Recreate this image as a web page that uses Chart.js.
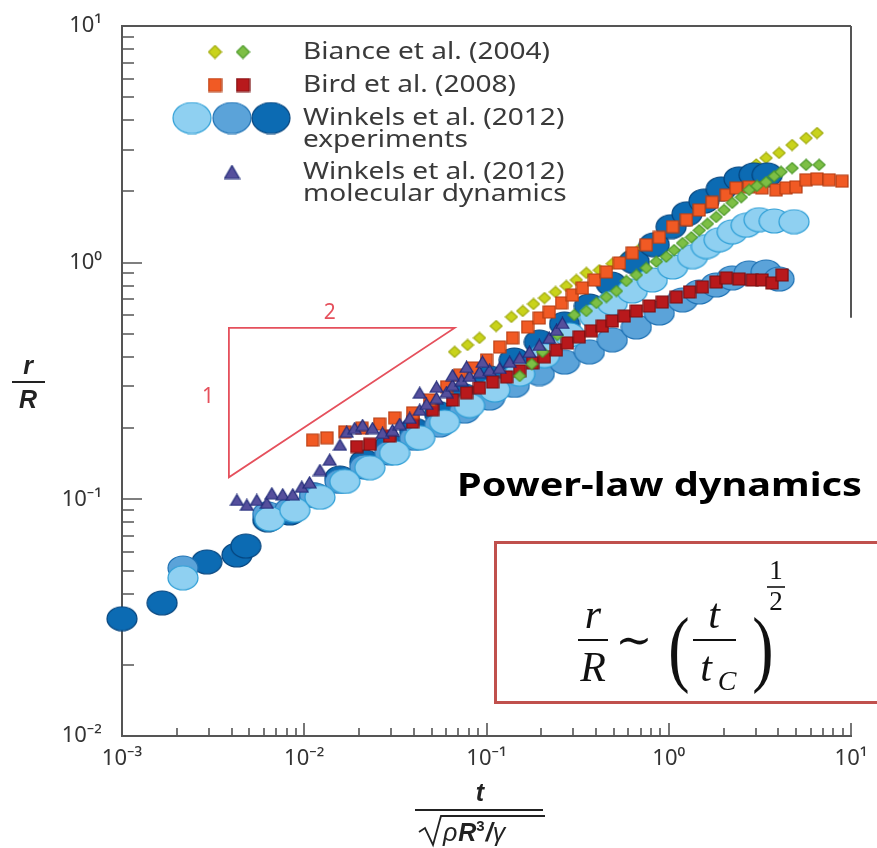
<!DOCTYPE html>
<html>
<head>
<meta charset="utf-8">
<script src="https://cdn.jsdelivr.net/npm/chart.js@4.4.1/dist/chart.umd.min.js"></script>
<style>
html, body { margin: 0; padding: 0; background: #fff; }
canvas { display: block; }
</style>
</head>
<body>
<canvas id="myChart" width="877" height="848"></canvas>
<script>
// values: t/sqrt(rho R^3/gamma) (x) and r/R (y)
var bianceLightT = [0.0668,0.0787,0.0915,0.113,0.137,0.158,0.181,0.208,0.239,0.274,0.311,0.353,0.416,0.490,0.578,0.690,0.812,0.957,1.14,1.36,1.63,1.94,2.29,2.63,3.02,3.42,4.03,4.75,5.67,6.51];
var bianceLightR = [0.420,0.449,0.481,0.540,0.590,0.625,0.669,0.709,0.752,0.797,0.845,0.905,0.930,0.990,1.05,1.14,1.25,1.36,1.49,1.64,1.80,1.98,2.16,2.37,2.60,2.77,2.91,3.14,3.36,3.53];

var bianceDarkT = [0.152,0.177,0.203,0.245,0.303,0.353,0.401,0.455,0.516,0.585,0.664,0.753,0.854,0.969,1.07,1.19,1.33,1.47,1.63,1.82,2.01,2.23,2.50,2.76,3.05,3.42,3.79,4.13,4.75,5.67,6.68];
var bianceDarkR = [0.332,0.373,0.420,0.495,0.601,0.625,0.676,0.716,0.759,0.837,0.887,0.950,1.01,1.06,1.13,1.21,1.28,1.37,1.46,1.56,1.67,1.79,1.89,2.03,2.11,2.19,2.32,2.42,2.51,2.59,2.59];

var birdLightT = [0.0111,0.0133,0.0167,0.0207,0.0259,0.0313,0.0393,0.0487,0.0604,0.0712,0.0838,0.100,0.118,0.139,0.168,0.195,0.221,0.258,0.296,0.336,0.391,0.455,0.536,0.631,0.753,0.887,1.05,1.25,1.47,1.73,2.07,2.34,2.76,3.25,3.88,4.40,4.99,5.67,6.51,7.58,8.92];
var birdLightR = [0.178,0.182,0.193,0.200,0.208,0.221,0.232,0.263,0.299,0.335,0.359,0.388,0.440,0.481,0.535,0.584,0.619,0.676,0.730,0.782,0.845,0.914,0.997,1.10,1.19,1.28,1.42,1.52,1.67,1.80,1.93,2.07,2.09,2.07,2.03,2.07,2.09,2.24,2.26,2.24,2.21];

var birdDarkT = [0.0194,0.0229,0.0294,0.0393,0.0506,0.0651,0.0777,0.0915,0.108,0.129,0.152,0.179,0.208,0.242,0.278,0.323,0.376,0.432,0.490,0.570,0.664,0.782,0.921,1.10,1.30,1.53,1.82,2.07,2.43,2.87,3.25,3.69,4.19];
var birdDarkR = [0.167,0.171,0.185,0.212,0.239,0.263,0.282,0.296,0.313,0.329,0.349,0.377,0.400,0.428,0.458,0.486,0.515,0.540,0.567,0.595,0.625,0.656,0.682,0.716,0.752,0.790,0.829,0.862,0.853,0.845,0.845,0.821,0.887];

var winkelsLightT = [0.00216,0.00647,0.00887,0.0122,0.0167,0.0229,0.0313,0.0430,0.0589,0.0807,0.111,0.152,0.208,0.285,0.391,0.490,0.631,0.812,1.05,1.35,1.61,1.89,2.23,2.66,3.13,3.79,4.87];
var winkelsLightR = [0.0466,0.0826,0.090,0.102,0.119,0.136,0.157,0.182,0.212,0.249,0.290,0.338,0.405,0.495,0.595,0.676,0.759,0.845,0.959,1.06,1.17,1.25,1.35,1.44,1.52,1.50,1.49];

var winkelsMidT = [0.00216,0.00631,0.00833,0.0114,0.0157,0.0215,0.0294,0.0403,0.0553,0.0758,0.104,0.142,0.195,0.268,0.367,0.490,0.664,0.887,1.19,1.47,1.82,2.23,2.76,3.42,4.03];
var winkelsMidR = [0.0513,0.0868,0.0902,0.104,0.119,0.137,0.157,0.181,0.206,0.236,0.268,0.303,0.340,0.380,0.420,0.472,0.535,0.613,0.696,0.752,0.805,0.862,0.905,0.914,0.853];

var winkelsDarkT = [0.00100,0.00166,0.00292,0.00427,0.00478,0.00631,0.00833,0.0114,0.0157,0.0215,0.0294,0.0403,0.0553,0.0758,0.104,0.142,0.195,0.268,0.367,0.484,0.647,0.833,1.03,1.26,1.56,1.94,2.43,2.94,3.47];
var winkelsDarkR = [0.0313,0.0365,0.0544,0.0582,0.0635,0.0819,0.0876,0.104,0.123,0.144,0.168,0.196,0.230,0.273,0.326,0.388,0.462,0.551,0.656,0.813,1.01,1.19,1.42,1.61,1.82,2.05,2.26,2.35,2.35];

var mdT = [0.00427,0.00484,0.00549,0.00623,0.00664,0.00762,0.00865,0.00969,0.0107,0.0122,0.0138,0.0157,0.0171,0.0189,0.0209,0.0237,0.0269,0.0305,0.0334,0.0379,0.0430,0.0469,0.0532,0.0604,0.0651,0.0730,0.0807,0.0915,0.104,0.118,0.134,0.152,0.172,0.195,0.221,0.242,0.261,0.0430,0.0532,0.0651,0.0777,0.0951];
var mdR = [0.0994,0.0947,0.0994,0.0966,0.106,0.105,0.105,0.113,0.118,0.133,0.147,0.170,0.193,0.200,0.206,0.200,0.191,0.196,0.208,0.221,0.239,0.253,0.268,0.284,0.304,0.319,0.332,0.345,0.352,0.359,0.381,0.396,0.420,0.449,0.481,0.520,0.556,0.282,0.299,0.335,0.363,0.381];

var xTickValues = [0.001, 0.01, 0.1, 1, 10];
var xTickLabels = ['10\u207B\u00B3', '10\u207B\u00B2', '10\u207B\u00B9', '10\u2070', '10\u00B9'];
var yTickValues = [0.01, 0.1, 1, 10];
var yTickLabels = ['10\u207B\u00B2', '10\u207B\u00B9', '10\u2070', '10\u00B9'];

var legendLabels = [
  ['Biance et al. (2004)'],
  ['Bird et al. (2008)'],
  ['Winkels et al. (2012)', 'experiments'],
  ['Winkels et al. (2012)', 'molecular dynamics']
];

var colors = {
  yellow: ['#c9d31b', '#a2ac10'],
  green: ['#7dbf45', '#4d9a2b'],
  orange: ['#f15a24', '#b43c12'],
  darkred: ['#b8191c', '#7b0e10'],
  light: ['#8fd0f1', '#2f9fd6'],
  mid: ['#5ba3d9', '#1f72b4'],
  dark: ['#0c6bb3', '#06457e'],
  tri: ['#554f9c', '#1f2a78']
};

function makeMarker(shape, w, h, c) {
  var cv = document.createElement('canvas');
  cv.width = w + 2; cv.height = h + 2;
  var g = cv.getContext('2d');
  var cx = (w + 2) / 2, cy = (h + 2) / 2;
  g.fillStyle = c[0]; g.strokeStyle = c[1]; g.lineWidth = 1.2;
  g.beginPath();
  if (shape === 'ellipse') {
    g.ellipse(cx, cy, w / 2, h / 2, 0, 0, Math.PI * 2);
  } else if (shape === 'square') {
    g.rect(1, 1, w, h);
  } else if (shape === 'diamond') {
    g.moveTo(cx, 1); g.lineTo(w + 1, cy); g.lineTo(cx, h + 1); g.lineTo(1, cy); g.closePath();
  } else {
    g.moveTo(cx, 1); g.lineTo(w + 1, h + 1); g.lineTo(1, h + 1); g.closePath();
  }
  g.fill(); g.stroke();
  return cv;
}

function pairs(ts, rs) {
  return ts.map(function (t, i) { return { x: t, y: rs[i] }; });
}

function series(label, ts, rs, marker) {
  return { label: label, data: pairs(ts, rs), pointStyle: marker, pointRadius: 6, clip: false, showLine: false };
}

var mk = {
  yellow: makeMarker('diamond', 12, 11, colors.yellow),
  green: makeMarker('diamond', 12, 11, colors.green),
  orange: makeMarker('square', 12, 12, colors.orange),
  darkred: makeMarker('square', 12, 12, colors.darkred),
  light: makeMarker('ellipse', 30, 24, colors.light),
  mid: makeMarker('ellipse', 30, 24, colors.mid),
  dark: makeMarker('ellipse', 30, 24, colors.dark),
  tri: makeMarker('triangle', 13, 11, colors.tri)
};

var legMk = {
  yellow: makeMarker('diamond', 13, 13, colors.yellow),
  green: makeMarker('diamond', 13, 13, colors.green),
  orange: makeMarker('square', 13, 13, colors.orange),
  darkred: makeMarker('square', 13, 13, colors.darkred),
  light: makeMarker('ellipse', 38, 31, colors.light),
  mid: makeMarker('ellipse', 38, 31, colors.mid),
  dark: makeMarker('ellipse', 38, 31, colors.dark),
  tri: makeMarker('triangle', 15, 13, colors.tri)
};

var axisColor = '#555555';
var noteRed = '#e5505c';

function put(ctx, img, x, y) {
  ctx.drawImage(img, x - img.width / 2, y - img.height / 2);
}

// text squeezed or stretched horizontally to a given width
function fitText(ctx, text, x, y, width) {
  var w = ctx.measureText(text).width;
  ctx.save();
  ctx.translate(x, y);
  ctx.scale(width / w, 1);
  ctx.fillText(text, 0, 0);
  ctx.restore();
}

var figurePlugin = {
  id: 'figure',
  beforeDatasetsDraw: function (chart) {
    var ctx = chart.ctx, xs = chart.scales.x, ys = chart.scales.y, a = chart.chartArea;
    ctx.save();
    ctx.strokeStyle = axisColor;
    ctx.lineWidth = 1.6;
    ctx.beginPath();
    for (var e = -3; e <= 1; e++) {
      for (var k = 1; k <= 9; k++) {
        if (e === 1 && k > 1) break;
        var v = k * Math.pow(10, e);
        var px = Math.round(xs.getPixelForValue(v));
        var len = k === 1 ? 13 : 8;
        ctx.moveTo(px, a.bottom); ctx.lineTo(px, a.bottom - len);
        if (e >= -2) {
          var py = Math.round(ys.getPixelForValue(v));
          var ylen = k === 1 ? 20 : 12;
          ctx.moveTo(a.left, py); ctx.lineTo(a.left + ylen, py);
        }
      }
    }
    ctx.stroke();
    // top frame and the visible part of the right frame
    ctx.lineWidth = 2;
    ctx.beginPath();
    ctx.moveTo(a.left, a.top); ctx.lineTo(a.right, a.top);
    ctx.moveTo(a.right, a.top); ctx.lineTo(a.right, ys.getPixelForValue(0.585));
    ctx.stroke();

    // slope triangle 1 : 2
    var p1 = [xs.getPixelForValue(0.00386), ys.getPixelForValue(0.53)];
    var p2 = [xs.getPixelForValue(0.0668), ys.getPixelForValue(0.53)];
    var p3 = [xs.getPixelForValue(0.00386), ys.getPixelForValue(0.124)];
    ctx.strokeStyle = noteRed;
    ctx.lineWidth = 1.8;
    ctx.beginPath();
    ctx.moveTo(p1[0], p1[1]); ctx.lineTo(p2[0], p2[1]); ctx.lineTo(p3[0], p3[1]); ctx.closePath();
    ctx.stroke();
    ctx.fillStyle = noteRed;
    ctx.font = '21px "Noto Sans"';
    ctx.textAlign = 'center';
    ctx.textBaseline = 'middle';
    ctx.fillText('2', xs.getPixelForValue(0.0138), ys.getPixelForValue(0.61));
    ctx.fillText('1', xs.getPixelForValue(0.00296), ys.getPixelForValue(0.27));
    ctx.restore();
  },
  afterDraw: function (chart) {
    var ctx = chart.ctx;
    ctx.save();

    // legend
    var rows = [
      { m: [legMk.yellow, legMk.green], x: [215, 243], y: 52 },
      { m: [legMk.orange, legMk.darkred], x: [215, 243], y: 85 },
      { m: [legMk.light, legMk.mid, legMk.dark], x: [192, 232, 271], y: 118 },
      { m: [legMk.tri], x: [232], y: 172 }
    ];
    ctx.fillStyle = '#3a3a3a';
    ctx.font = '23px "Noto Sans"';
    ctx.textAlign = 'left';
    ctx.textBaseline = 'middle';
    var stretch = 247 / ctx.measureText(legendLabels[0][0]).width;
    rows.forEach(function (row, i) {
      row.m.forEach(function (img, j) { put(ctx, img, row.x[j], row.y); });
      legendLabels[i].forEach(function (line, j) {
        fitText(ctx, line, 303, row.y + j * 22, ctx.measureText(line).width * stretch);
      });
    });

    // y axis title r / R
    ctx.fillStyle = '#222';
    ctx.strokeStyle = '#222';
    ctx.textAlign = 'center';
    ctx.textBaseline = 'alphabetic';
    ctx.font = 'italic bold 25px "Liberation Sans"';
    ctx.fillText('r', 28, 374);
    ctx.fillText('R', 28, 408);
    ctx.lineWidth = 2;
    ctx.beginPath(); ctx.moveTo(12, 382); ctx.lineTo(45, 382); ctx.stroke();

    // x axis title t / sqrt(rho R^3 / gamma)
    ctx.fillText('t', 480, 801);
    ctx.beginPath(); ctx.moveTo(415, 810); ctx.lineTo(543, 810); ctx.stroke();
    ctx.lineWidth = 1.8;
    ctx.beginPath();
    ctx.moveTo(419, 832); ctx.lineTo(425, 828); ctx.lineTo(433, 845); ctx.lineTo(441, 816); ctx.lineTo(545, 816);
    ctx.stroke();
    ctx.textAlign = 'left';
    var cx = 443;
    ctx.font = 'italic 25px "Liberation Sans"';
    ctx.fillText('\u03C1', cx, 841); cx += ctx.measureText('\u03C1').width + 1;
    ctx.font = 'italic bold 25px "Liberation Sans"';
    ctx.fillText('R', cx, 841); cx += ctx.measureText('R').width;
    ctx.font = 'bold 15px "Liberation Sans"';
    ctx.fillText('3', cx, 831); cx += ctx.measureText('3').width + 1;
    ctx.font = 'italic bold 25px "Liberation Sans"';
    ctx.fillText('/', cx, 841); cx += ctx.measureText('/').width;
    ctx.font = 'italic 25px "Liberation Sans"';
    ctx.fillText('\u03B3', cx, 841);

    // Power-law dynamics heading
    ctx.fillStyle = '#000';
    ctx.font = 'bold 32px "Noto Sans"';
    fitText(ctx, 'Power-law dynamics', 457, 496, 405);

    // formula box
    ctx.strokeStyle = '#c0504d';
    ctx.lineWidth = 3;
    ctx.strokeRect(495.5, 542.5, 420, 160);

    ctx.fillStyle = '#111';
    ctx.strokeStyle = '#111';
    ctx.textAlign = 'center';
    ctx.font = 'italic 42px "Liberation Serif"';
    ctx.fillText('r', 593, 628);
    ctx.fillText('R', 593, 681);
    ctx.lineWidth = 2;
    ctx.beginPath(); ctx.moveTo(578, 640); ctx.lineTo(608, 640); ctx.stroke();
    ctx.textBaseline = 'middle';
    ctx.font = '44px "DejaVu Serif"';
    ctx.fillText('\u223C', 634, 644);
    ctx.font = '80px "Liberation Serif"';
    ctx.save();
    ctx.translate(0, 654);
    ctx.scale(0.8, 1.05);
    ctx.fillText('(', 679 / 0.8, 0);
    ctx.fillText(')', 763 / 0.8, 0);
    ctx.restore();
    ctx.textBaseline = 'alphabetic';
    ctx.font = 'italic 42px "Liberation Serif"';
    ctx.fillText('t', 714, 628);
    ctx.fillText('t', 706, 681);
    ctx.font = 'italic 28px "Liberation Serif"';
    ctx.fillText('C', 727, 690);
    ctx.beginPath(); ctx.moveTo(693, 640); ctx.lineTo(736, 640); ctx.stroke();
    ctx.font = '27px "Liberation Serif"';
    ctx.fillText('1', 776, 579);
    ctx.fillText('2', 776, 610);
    ctx.lineWidth = 1.6;
    ctx.beginPath(); ctx.moveTo(767, 587); ctx.lineTo(785, 587); ctx.stroke();

    ctx.restore();
  }
};

var ctx = document.getElementById('myChart');

var myChart = new Chart(ctx, {
  type: 'scatter',
  data: {
    datasets: [
      series('Winkels et al. (2012) molecular dynamics', mdT, mdR, mk.tri),
      series('Biance et al. (2004) dark', bianceDarkT, bianceDarkR, mk.green),
      series('Bird et al. (2008) light', birdLightT, birdLightR, mk.orange),
      series('Bird et al. (2008) dark', birdDarkT, birdDarkR, mk.darkred),
      series('Winkels et al. (2012) light', winkelsLightT, winkelsLightR, mk.light),
      series('Winkels et al. (2012) mid', winkelsMidT, winkelsMidR, mk.mid),
      series('Winkels et al. (2012) dark', winkelsDarkT, winkelsDarkR, mk.dark),
      series('Biance et al. (2004) light', bianceLightT, bianceLightR, mk.yellow)
    ]
  },
  options: {
    responsive: false,
    animation: false,
    devicePixelRatio: 1,
    layout: { padding: { top: 26, right: 26, left: 0, bottom: 0 } },
    plugins: {
      legend: { display: false },
      tooltip: { enabled: false }
    },
    scales: {
      x: {
        type: 'logarithmic',
        min: 0.001,
        max: 10,
        afterFit: function (s) { s.height = 112; s.paddingLeft = 0; s.paddingRight = 0; },
        afterBuildTicks: function (s) { s.ticks = xTickValues.map(function (v) { return { value: v }; }); },
        ticks: {
          callback: function (v, i) { return xTickLabels[i]; },
          font: { family: 'Noto Sans', size: 22 },
          color: '#333',
          padding: 10,
          autoSkip: false,
          maxRotation: 0
        },
        grid: { display: false, drawTicks: false },
        border: { display: true, color: axisColor, width: 2 }
      },
      y: {
        type: 'logarithmic',
        min: 0.01,
        max: 10,
        afterFit: function (s) { s.width = 122; s.paddingTop = 0; s.paddingBottom = 0; },
        afterBuildTicks: function (s) { s.ticks = yTickValues.map(function (v) { return { value: v }; }); },
        ticks: {
          callback: function (v, i) { return yTickLabels[i]; },
          font: { family: 'Noto Sans', size: 22 },
          color: '#333',
          padding: 20,
          autoSkip: false
        },
        grid: { display: false, drawTicks: false },
        border: { display: true, color: axisColor, width: 2 }
      }
    }
  },
  plugins: [figurePlugin]
});
</script>
</body>
</html>
